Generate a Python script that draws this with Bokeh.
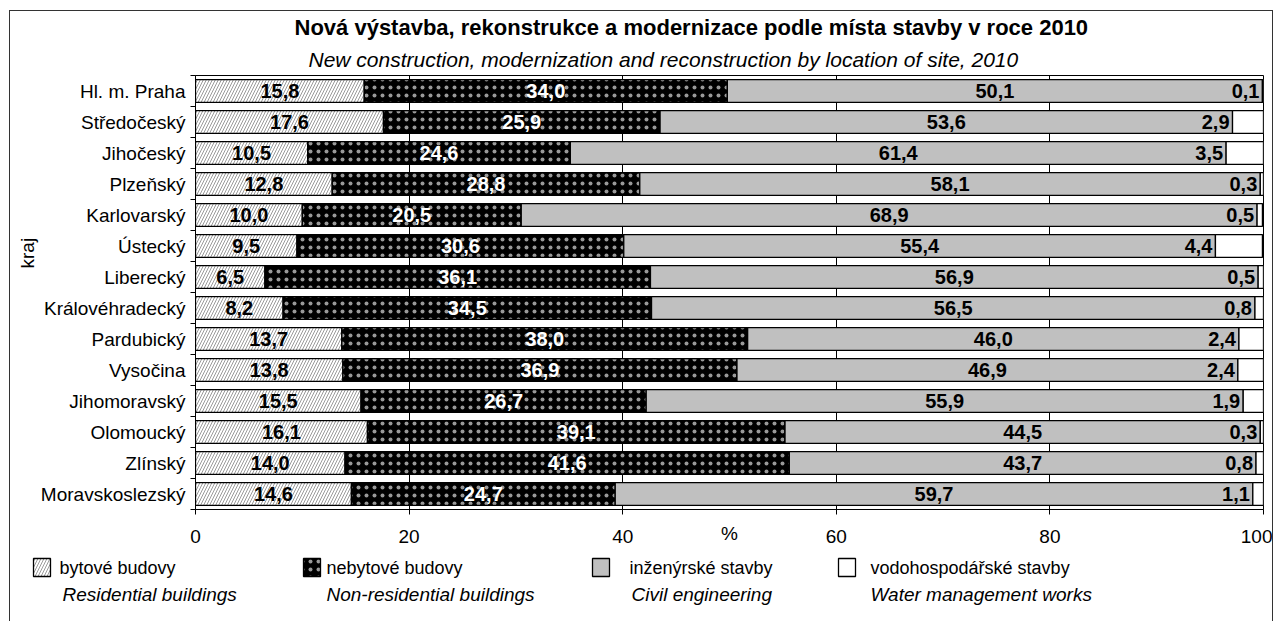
from bokeh.plotting import figure
from bokeh.layouts import column
from bokeh.models import (Range1d, FixedTicker, LabelSet, ColumnDataSource, Title)
from bokeh.core.properties import value
from bokeh.embed import file_html
from bokeh.resources import INLINE

# ---------------- data ----------------
regions = ["Hl. m. Praha", "Středočeský", "Jihočeský", "Plzeňský", "Karlovarský",
           "Ústecký", "Liberecký", "Královéhradecký", "Pardubický", "Vysočina",
           "Jihomoravský", "Olomoucký", "Zlínský", "Moravskoslezský"]
residential = [15.8, 17.6, 10.5, 12.8, 10.0, 9.5, 6.5, 8.2, 13.7, 13.8, 15.5, 16.1, 14.0, 14.6]
nonresidential = [34.0, 25.9, 24.6, 28.8, 20.5, 30.6, 36.1, 34.5, 38.0, 36.9, 26.7, 39.1, 41.6, 24.7]
civil = [50.1, 53.6, 61.4, 58.1, 68.9, 55.4, 56.9, 56.5, 46.0, 46.9, 55.9, 44.5, 43.7, 59.7]
water = [0.1, 2.9, 3.5, 0.3, 0.5, 4.4, 0.5, 0.8, 2.4, 2.4, 1.9, 0.3, 0.8, 1.1]

series_cz = ["bytové budovy", "nebytové budovy", "inženýrské stavby", "vodohospodářské stavby"]
series_en = ["Residential buildings", "Non-residential buildings", "Civil engineering",
             "Water management works"]
x_ticks = [0, 20, 40, 60, 80, 100]
title_cz = "Nová výstavba, rekonstrukce a modernizace podle místa stavby v roce 2010"
title_en = "New construction, modernization and reconstruction by location of site, 2010"
y_label = "kraj"
x_label = "%"

# ---------------- styles ----------------
FONT = "Liberation Sans"
FILLS = ["white", "black", "#c0c0c0", "white"]
HATCH = ["/", ".", " ", " "]
HATCH_COLORS = ["#9a9a9a", "white", "black", "black"]
HATCH_SCALE = [6, 8, 12, 12]
HATCH_WEIGHT = [1, 0.6, 1, 1]
HATCH_ALPHA = [1.0, 0.6, 1.0, 1.0]

n = len(regions)
ys = [n - 1 - i + 0.5 for i in range(n)]

def fmt(v):
    return f"{v:.1f}".replace(".", ",")

cum1 = residential
cum2 = [a + b for a, b in zip(residential, nonresidential)]
cum3 = [a + b for a, b in zip(cum2, civil)]

source = ColumnDataSource(dict(y=ys, res=residential, nonres=nonresidential,
                               civil=civil, water=water))

# ---------------- main chart ----------------
p = figure(frame_width=1068, frame_height=434,
           min_border_left=185, min_border_right=9,
           min_border_top=64, min_border_bottom=40,
           x_range=Range1d(0, 100), y_range=Range1d(0, n),
           output_backend="svg", toolbar_location=None)
p.outline_line_color = "black"
p.outline_line_width = 1
p.background_fill_color = "white"
p.border_fill_color = "white"

p.hbar_stack(["res", "nonres", "civil", "water"], y="y", height=0.74, source=source,
             fill_color=FILLS, line_color="black", line_width=1.3,
             hatch_pattern=HATCH, hatch_color=HATCH_COLORS, hatch_alpha=HATCH_ALPHA,
             hatch_scale=HATCH_SCALE, hatch_weight=HATCH_WEIGHT)

p.xgrid.ticker = FixedTicker(ticks=x_ticks)
p.xgrid.grid_line_color = "black"
p.xgrid.grid_line_width = 1
p.ygrid.grid_line_color = None

p.xaxis.ticker = FixedTicker(ticks=x_ticks)
p.xaxis.axis_line_color = "black"
p.xaxis.major_tick_out = 5
p.xaxis.major_tick_in = 0
p.xaxis.minor_tick_line_color = None
p.xaxis.major_label_standoff = 15
p.xaxis.major_label_text_font = FONT
p.xaxis.major_label_text_font_size = "19px"
p.xaxis.major_label_text_color = "black"
p.xaxis.axis_label = x_label
p.xaxis.axis_label_standoff = -23
p.xaxis.axis_label_text_font = FONT
p.xaxis.axis_label_text_font_style = "normal"
p.xaxis.axis_label_text_font_size = "19px"
p.xaxis.axis_label_text_color = "black"

p.yaxis.ticker = FixedTicker(ticks=ys, minor_ticks=list(range(n + 1)))
p.yaxis.major_label_overrides = {y: r for y, r in zip(ys, regions)}
p.yaxis.major_tick_line_color = None
p.yaxis.major_tick_out = 0
p.yaxis.major_tick_in = 0
p.yaxis.minor_tick_out = 5
p.yaxis.minor_tick_in = 0
p.yaxis.minor_tick_line_color = "black"
p.yaxis.axis_line_color = "black"
p.yaxis.major_label_standoff = 5
p.yaxis.major_label_text_font = FONT
p.yaxis.major_label_text_font_size = "19px"
p.yaxis.major_label_text_color = "black"

def labelset(xs, vals, color, align="center", xoff=0):
    src = ColumnDataSource(dict(x=xs, y=ys, t=[fmt(v) for v in vals]))
    return LabelSet(x="x", y="y", text="t", source=src, text_align=align,
                    text_baseline="middle", text_font=value(FONT),
                    text_font_style="bold", text_font_size=value("20px"),
                    text_color=color, x_offset=xoff)

p.add_layout(labelset([r / 2 for r in residential], residential, "black"))
p.add_layout(labelset([a + b / 2 for a, b in zip(cum1, nonresidential)], nonresidential, "white"))
p.add_layout(labelset([a + b / 2 for a, b in zip(cum2, civil)], civil, "black"))
p.add_layout(labelset(cum3, water, "black", align="right", xoff=-3))

# titles (subtitle closest to the frame)
p.add_layout(Title(text=title_en, align="left", offset=113, standoff=10,
                   text_font=FONT, text_font_style="italic", text_font_size="21px",
                   text_color="black"), "above")
p.add_layout(Title(text=title_cz, align="left", offset=99, standoff=1,
                   text_font=FONT, text_font_style="bold", text_font_size="22px",
                   text_color="black"), "above")
p.add_layout(Title(text=y_label, align="left", offset=241, standoff=0,
                   text_font=FONT, text_font_style="normal", text_font_size="19px",
                   text_color="black"), "left")

# ---------------- legend strip ----------------
LEG_TOP, LEG_H = 549, 72
q = figure(frame_width=1262, frame_height=LEG_H,
           min_border_left=0, min_border_right=0, min_border_top=0, min_border_bottom=0,
           x_range=Range1d(10, 1272), y_range=Range1d(LEG_TOP + LEG_H, LEG_TOP),
           x_axis_location=None, y_axis_location=None,
           output_backend="svg", toolbar_location=None)
q.outline_line_color = None
q.background_fill_color = "white"
q.border_fill_color = "white"
q.grid.grid_line_color = None
for fig in (p, q):
    try:
        fig.frame_align = False
    except AttributeError:
        pass

sw_left = [33, 303, 592, 838]
txt_left = [59, 326, 629, 870]
en_left = [62, 326, 631, 870]
sw = ColumnDataSource(dict(left=sw_left, right=[v + 17 for v in sw_left],
                           top=[558] * 4, bottom=[576] * 4,
                           fill=FILLS, hp=HATCH, hc=HATCH_COLORS, ha=HATCH_ALPHA,
                           hs=HATCH_SCALE, hw=HATCH_WEIGHT))
q.quad(left="left", right="right", top="top", bottom="bottom", source=sw,
       fill_color="fill", line_color="black", line_width=1.3,
       hatch_pattern="hp", hatch_color="hc", hatch_alpha="ha",
       hatch_scale="hs", hatch_weight="hw")
q.text(x=txt_left, y=[567] * 4, text=series_cz, text_baseline="middle",
       text_align="left", text_font=value(FONT), text_font_size=value("18px"),
       text_color="black")
q.text(x=en_left, y=[594] * 4, text=series_en, text_baseline="middle",
       text_align="left", text_font=value(FONT), text_font_style="italic",
       text_font_size=value("19px"), text_color="black")

layout = column(p, q, margin=(10, 0, 0, 9),
                styles={"border-left": "1px solid #333", "border-top": "1px solid #333",
                        "border-right": "1px solid #333"})

open("out.html", "w").write(file_html(layout, INLINE))
